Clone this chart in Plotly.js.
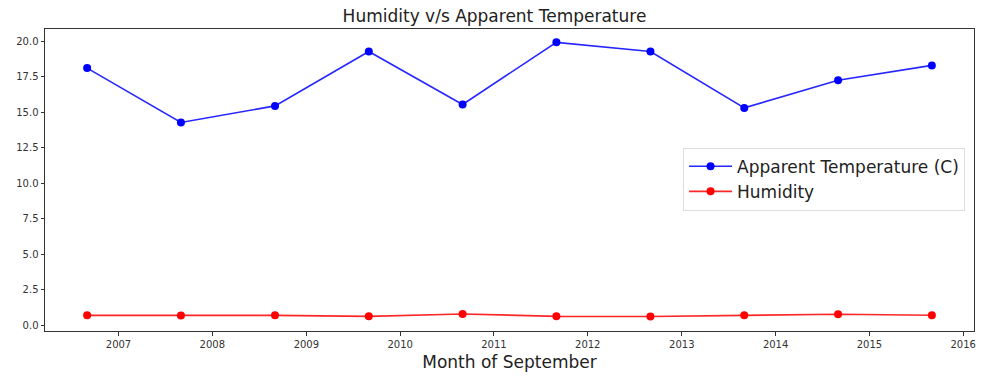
<!DOCTYPE html>
<html>
<head>
<meta charset="utf-8">
<script src="https://cdn.plot.ly/plotly-3.0.1.min.js"></script>
<style>html,body{margin:0;padding:0;background:#fff;}</style>
</head>
<body>
<div id="chart" style="width:989px;height:376px;"></div>
<script>
const dates = ["2006-09-01","2007-09-01","2008-09-01","2009-09-01","2010-09-01","2011-09-01","2012-09-01","2013-09-01","2014-09-01","2015-09-01"];
const apparentTemp = [18.10, 14.27, 15.44, 19.27, 15.54, 19.91, 19.27, 15.30, 17.25, 18.29];
const humidity = [0.70, 0.69, 0.70, 0.63, 0.80, 0.63, 0.62, 0.70, 0.78, 0.71];
const yTicks = [0, 2.5, 5, 7.5, 10, 12.5, 15, 17.5, 20];

const font = "DejaVu Sans, sans-serif";
const traces = [
  {x: dates, y: apparentTemp, name: "Apparent Temperature (C)", type: "scatter", mode: "lines+markers",
   line: {color: "rgba(0,0,255,0.85)", width: 1.6}, marker: {color: "#0000ff", size: 8}},
  {x: dates, y: humidity, name: "Humidity", type: "scatter", mode: "lines+markers",
   line: {color: "rgba(255,0,0,0.85)", width: 1.6}, marker: {color: "#ff0000", size: 8}}
];
const axisCommon = {showline: true, mirror: true, linecolor: "#333", linewidth: 1, ticks: "outside",
  ticklen: 3.5, tickcolor: "#333", showgrid: false, zeroline: false,
  tickfont: {family: font, size: 10, color: "#333"}};
const layout = {
  width: 989, height: 376,
  margin: {l: 45, r: 15, t: 29, b: 45},
  paper_bgcolor: "#fff", plot_bgcolor: "#fff",
  title: {text: "Humidity v/s Apparent Temperature", font: {family: font, size: 17, color: "#222"}, x: 0.5, xanchor: "center", y: 0.957, yanchor: "middle"},
  xaxis: Object.assign({}, axisCommon, {type: "date", range: ["2006-03-21", "2016-02-12"],
    tick0: "2007-01-01", dtick: "M12", tickformat: "%Y",
    title: {text: "Month of September", font: {family: font, size: 17, color: "#222"}, standoff: 7}}),
  yaxis: Object.assign({}, axisCommon, {range: [-0.40, 20.85], tickmode: "array", tickvals: yTicks,
    ticktext: yTicks.map(v => v.toFixed(1))}),
  legend: {x: 0.6868, y: 0.607, xanchor: "left", yanchor: "top", bgcolor: "rgba(255,255,255,0.9)",
    bordercolor: "#ddd", borderwidth: 1, font: {family: font, size: 17, color: "#222"}, tracegroupgap: 0,
    itemwidth: 43},
  showlegend: true
};
Plotly.newPlot("chart", traces, layout, {displayModeBar: false, staticPlot: true});
</script>
</body>
</html>
